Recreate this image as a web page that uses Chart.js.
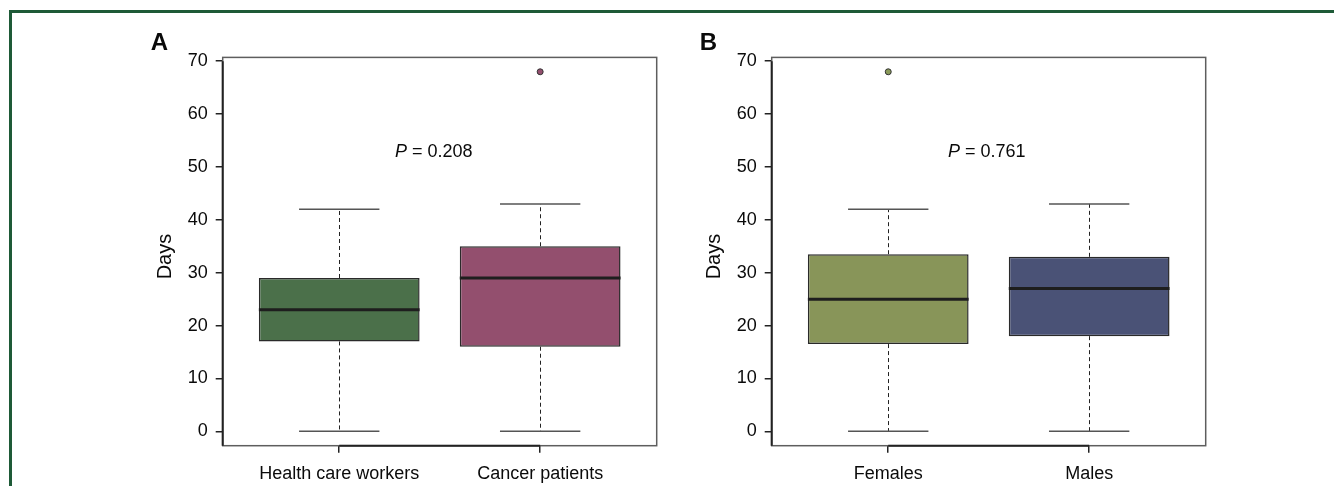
<!DOCTYPE html>
<html><head><meta charset="utf-8">
<script src="https://cdn.jsdelivr.net/npm/chart.js@4/dist/chart.umd.min.js"></script>
<style>
html,body{margin:0;padding:0;background:#fff;}
body{width:1334px;height:486px;position:relative;overflow:hidden;}
#frame{position:absolute;left:9px;top:10px;width:1340px;height:500px;border-left:3px solid #1e5a37;border-top:3px solid #1e5a37;}
.pc{position:absolute;top:0;width:580px;height:486px;}
</style></head><body>
<div id="frame"></div>
<div class="pc" style="left:100px"><canvas id="cA" width="580" height="486"></canvas></div>
<div class="pc" style="left:649px"><canvas id="cB" width="580" height="486"></canvas></div>
<script>
// ---- data ----
const categoriesA = ['Health care workers', 'Cancer patients'];
const lowA = [0, 0];
const q1A = [17, 16];
const medianA = [23, 29];
const q3A = [29, 35];
const highA = [42, 43];
const outlierGroupA = [2];
const outlierValueA = [68];
const pLabelA = '0.208';

const categoriesB = ['Females', 'Males'];
const lowB = [0, 0];
const q1B = [16.5, 18];
const medianB = [25, 27];
const q3B = [33.5, 33];
const highB = [42, 43];
const outlierGroupB = [1];
const outlierValueB = [68];
const pLabelB = '0.761';

const yTicks = [0, 10, 20, 30, 40, 50, 60, 70];

const FONT = "'Liberation Sans', Arial, Helvetica, sans-serif";
const TXT = '#0a0a0a';

const boxPlugin = {
  id: 'boxdraw',
  afterDatasetsDraw(chart, args, o) {
    const ctx = chart.ctx, xs = chart.scales.x, ys = chart.scales.y;
    ctx.save();
    o.cats.forEach((c, i) => {
      const g = i + 1;
      const xc = Math.round(xs.getPixelForValue(g)) + 0.5;
      // dashed whiskers
      ctx.strokeStyle = '#222'; ctx.lineWidth = 1; ctx.setLineDash([4, 3]);
      ctx.beginPath();
      ctx.moveTo(xc, ys.getPixelForValue(o.q3[i]));
      ctx.lineTo(xc, ys.getPixelForValue(o.high[i]));
      ctx.moveTo(xc, ys.getPixelForValue(o.q1[i]));
      ctx.lineTo(xc, ys.getPixelForValue(o.low[i]));
      ctx.stroke();
      ctx.setLineDash([]);
      // caps
      ctx.strokeStyle = '#555'; ctx.lineWidth = 1.5;
      ctx.beginPath();
      [o.high[i], o.low[i]].forEach(v => {
        const y = ys.getPixelForValue(v);
        ctx.moveTo(xs.getPixelForValue(g - 0.2), y);
        ctx.lineTo(xs.getPixelForValue(g + 0.2), y);
      });
      ctx.stroke();
      // median
      ctx.strokeStyle = '#1e1e1e'; ctx.lineWidth = 3;
      ctx.beginPath();
      const ym = ys.getPixelForValue(o.med[i]);
      ctx.moveTo(xs.getPixelForValue(g - 0.4), ym);
      ctx.lineTo(xs.getPixelForValue(g + 0.4), ym);
      ctx.stroke();
    });
    ctx.restore();
  },
  afterDraw(chart, args, o) {
    const ctx = chart.ctx, xs = chart.scales.x, ys = chart.scales.y, a = chart.chartArea;
    ctx.save();
    // plot frame
    ctx.strokeStyle = '#5e5e5e'; ctx.lineWidth = 1.5;
    ctx.strokeRect(a.left, a.top, a.right - a.left, a.bottom - a.top);
    // axis lines (between first and last ticks)
    ctx.strokeStyle = '#222'; ctx.lineWidth = 2;
    ctx.beginPath();
    ctx.moveTo(a.left, ys.getPixelForValue(yTicks[yTicks.length - 1]));
    ctx.lineTo(a.left, a.bottom);
    ctx.moveTo(xs.getPixelForValue(1), a.bottom);
    ctx.lineTo(xs.getPixelForValue(o.cats.length), a.bottom);
    ctx.stroke();
    // y title
    ctx.fillStyle = TXT;
    ctx.font = '20px ' + FONT;
    ctx.textAlign = 'center'; ctx.textBaseline = 'middle';
    ctx.save();
    ctx.translate(a.left - 57, (a.top + a.bottom) / 2 + 5);
    ctx.rotate(-Math.PI / 2);
    ctx.fillText('Days', 0, 0);
    ctx.restore();
    // panel letter
    ctx.font = 'bold 24px ' + FONT;
    ctx.textAlign = 'left'; ctx.textBaseline = 'alphabetic';
    ctx.fillText(o.letter, a.left - 72, 50);
    // P value
    const px = xs.getPixelForValue(o.pX), py = ys.getPixelForValue(51.8);
    ctx.font = 'italic 18px ' + FONT;
    const w1 = ctx.measureText('P').width;
    ctx.font = '18px ' + FONT;
    const rest = ' = ' + o.p;
    const w2 = ctx.measureText(rest).width;
    const x0 = px - (w1 + w2) / 2;
    ctx.font = 'italic 18px ' + FONT;
    ctx.fillText('P', x0, py);
    ctx.font = '18px ' + FONT;
    ctx.fillText(rest, x0 + w1, py);
    ctx.restore();
  }
};

function makeChart(id, cats, low, q1, med, q3, high, oG, oV, colors, outColor, letter, p, pX) {
  new Chart(document.getElementById(id), {
    type: 'bar',
    data: {
      datasets: [{
        type: 'bar',
        data: cats.map((c, i) => ({ x: i + 1, y: [q1[i], q3[i]] })),
        backgroundColor: colors,
        borderColor: '#2a2a2a',
        borderWidth: 1.5,
        borderSkipped: false,
        barPercentage: 0.8,
        categoryPercentage: 1
      }, {
        type: 'scatter',
        data: oG.map((g, i) => ({ x: g, y: oV[i] })),
        pointRadius: 3,
        pointBackgroundColor: outColor,
        pointBorderColor: '#333',
        pointBorderWidth: 1
      }]
    },
    options: {
      responsive: false,
      animation: false,
      devicePixelRatio: 1,
      layout: { padding: { left: 0, right: 23.3, top: 57.4, bottom: 0 } },
      plugins: {
        legend: { display: false },
        tooltip: { enabled: false },
        boxdraw: { cats, low, q1, med, q3, high, letter, p, pX }
      },
      scales: {
        x: {
          type: 'linear', min: 0.42, max: 2.58, offset: false,
          afterBuildTicks: s => { s.ticks = cats.map((c, i) => ({ value: i + 1 })); },
          afterFit: s => { s.height = 40.3; },
          grid: { display: true, offset: false, drawOnChartArea: false, drawTicks: true, tickLength: 7, color: '#222', lineWidth: 1.5 },
          border: { display: false },
          ticks: { autoSkip: false, maxRotation: 0, padding: 11, color: TXT, font: { family: FONT, size: 18 },
                   callback: (v, i) => cats[i] }
        },
        y: {
          type: 'linear', min: -2.72, max: 70.72,
          afterBuildTicks: s => { s.ticks = yTicks.map(v => ({ value: v })); },
          afterFit: s => { s.width = 122.7; },
          grid: { display: true, drawOnChartArea: false, drawTicks: true, tickLength: 7, color: '#222', lineWidth: 1.5 },
          border: { display: false },
          ticks: { padding: 8, color: TXT, font: { family: FONT, size: 18 }, callback: v => String(v) }
        }
      }
    },
    plugins: [boxPlugin]
  });
}

makeChart('cA', categoriesA, lowA, q1A, medianA, q3A, highA, outlierGroupA, outlierValueA,
  ['#4b704a', '#934f6e'], '#934f6e', 'A', pLabelA, 1.47);
makeChart('cB', categoriesB, lowB, q1B, medianB, q3B, highB, outlierGroupB, outlierValueB,
  ['#889559', '#4a5276'], '#8a9a5a', 'B', pLabelB, 1.49);
</script>
</body></html>
